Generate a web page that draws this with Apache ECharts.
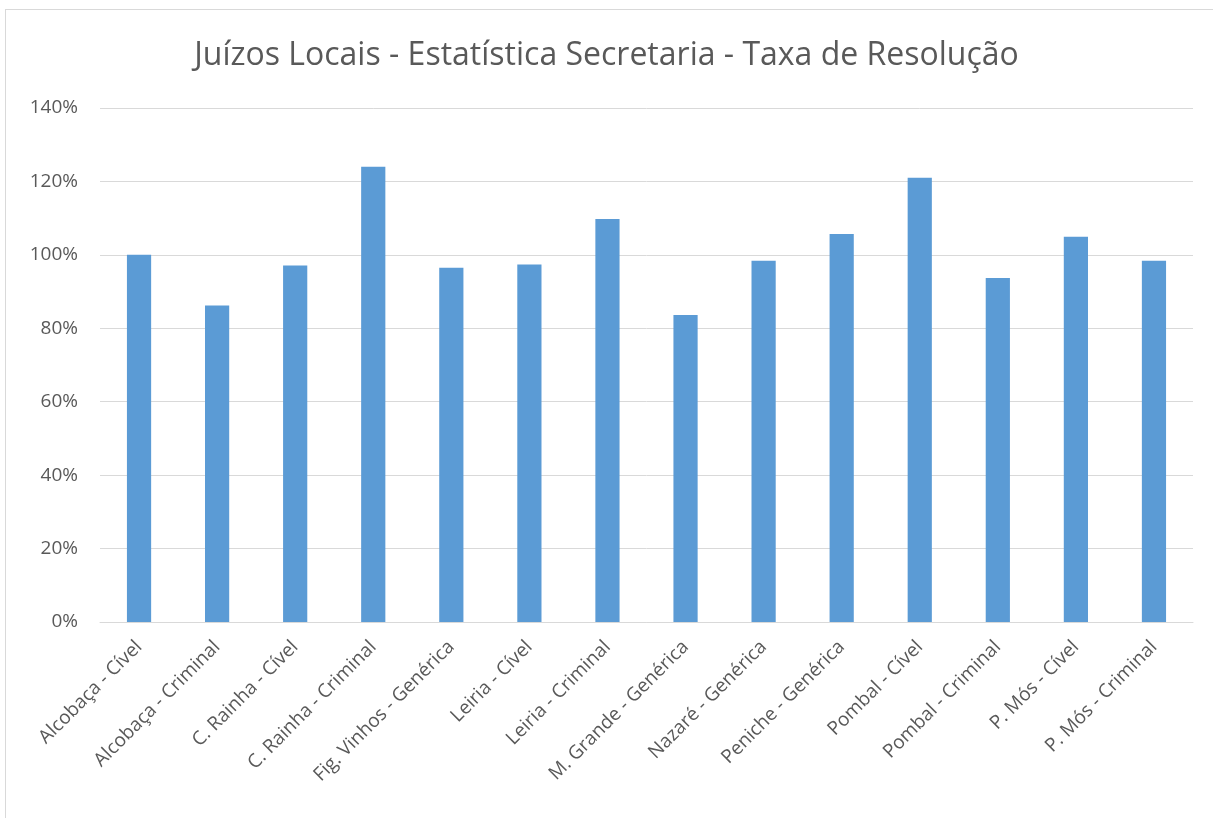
<!DOCTYPE html>
<html>
<head>
<meta charset="utf-8">
<script src="https://cdn.jsdelivr.net/npm/echarts@6/dist/echarts.min.js"></script>
<style>
  html, body { margin: 0; padding: 0; background: #fff; }
  #frame { position: absolute; left: 5px; top: 9px; width: 1212px; height: 812px; border: 1px solid #d9d9d9; box-sizing: border-box; }
  #chart { position: absolute; left: 0; top: 0; width: 1213px; height: 818px; }
</style>
</head>
<body>
<div id="frame"></div>
<div id="chart"></div>
<script>
  // categorias e taxa de resolução (%)
  const categories = [
    'Alcobaça - Cível', 'Alcobaça - Criminal', 'C. Rainha - Cível', 'C. Rainha - Criminal',
    'Fig. Vinhos - Genérica', 'Leiria - Cível', 'Leiria - Criminal', 'M. Grande - Genérica',
    'Nazaré - Genérica', 'Peniche - Genérica', 'Pombal - Cível', 'Pombal - Criminal',
    'P. Mós - Cível', 'P. Mós - Criminal'
  ]
  const taxaResolucao = [100.0, 86.2, 97.1, 124.0, 96.5, 97.4, 109.8, 83.6, 98.4, 105.7, 121.0, 93.7, 104.9, 98.4]
  const yTicks = [0, 20, 40, 60, 80, 100, 120, 140]

  const chart = echarts.init(document.getElementById('chart'))
  const font = '"Open Sans", "Noto Sans", sans-serif'

  chart.setOption({
    animation: false,
    title: {
      text: 'Juízos Locais - Estatística Secretaria - Taxa de Resolução',
      left: 'center',
      top: 35,
      textStyle: {
        fontFamily: font,
        fontSize: 32,
        fontWeight: 'normal',
        color: '#595959'
      }
    },
    grid: {
      left: 100,
      right: 20,
      top: 108,
      bottom: 196
    },
    xAxis: {
      type: 'category',
      data: categories,
      axisTick: { show: false },
      axisLine: { show: true, lineStyle: { color: '#d9d9d9', width: 1 } },
      axisLabel: {
        interval: 0,
        rotate: 45,
        margin: 22,
        fontFamily: font,
        fontSize: 19,
        color: '#595959'
      }
    },
    yAxis: {
      type: 'value',
      min: yTicks[0],
      max: yTicks[yTicks.length - 1],
      interval: 20,
      axisLine: { show: false },
      axisTick: { show: false },
      splitLine: { show: true, lineStyle: { color: '#d9d9d9', width: 1 } },
      axisLabel: {
        formatter: '{value}%',
        margin: 22,
        fontFamily: font,
        fontSize: 19,
        color: '#595959'
      }
    },
    series: [{
      name: 'Taxa de Resolução',
      type: 'bar',
      barWidth: '31%',
      itemStyle: { color: '#5b9bd5' },
      data: taxaResolucao
    }]
  })
</script>
</body>
</html>
